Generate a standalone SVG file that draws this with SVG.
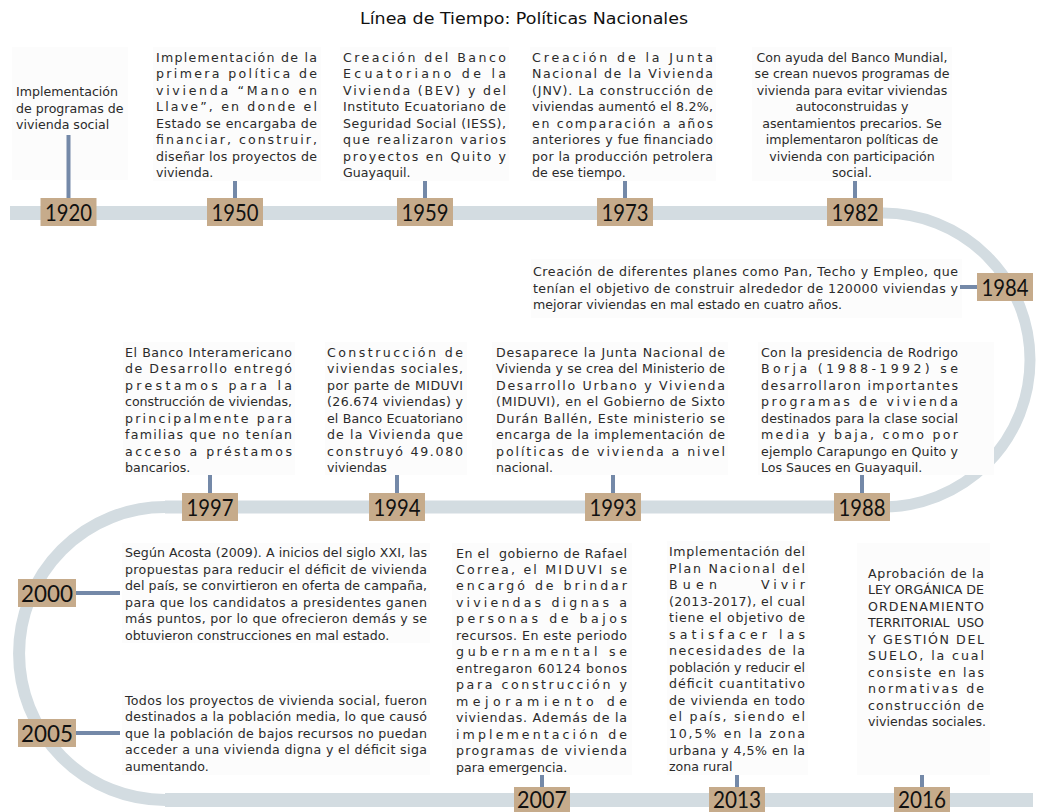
<svg xmlns="http://www.w3.org/2000/svg" width="1037" height="812" viewBox="0 0 1037 812">
  <defs>
    <style>
      .bg { fill: #fcfcfc; }
      .band { fill: none; stroke: #d3dce1; }
      .stem { stroke: #7489a8; stroke-width: 4; fill: none; }
      .box { fill: #c6ab8b; }
      .year { font-family: Lato, "Open Sans", "DejaVu Sans", sans-serif; font-weight: 400; font-size: 24px; fill: #111111; text-anchor: middle; }
      .t { font-family: "DejaVu Sans", "Liberation Sans", sans-serif; font-size: 12.6px; fill: #2b2b2b; }
      .c { text-anchor: middle; }
      .title { font-family: "DejaVu Sans", "Liberation Sans", sans-serif; font-size: 16px; fill: #111; text-anchor: middle; }
    </style>
  </defs>

  <rect width="1037" height="812" fill="#ffffff"/>

  <text class="title" x="524" y="24" textLength="328" lengthAdjust="spacingAndGlyphs">Línea de Tiempo: Políticas Nacionales</text>

  <!-- timeline track -->
  <g id="track">
    <line class="band" x1="10" y1="213" x2="883" y2="213" stroke-width="14"/>
    <path class="band" d="M 883 213 A 147 147 0 0 1 883 507" stroke-width="11"/>
    <line class="band" x1="165" y1="507" x2="883" y2="507" stroke-width="13"/>
    <path class="band" d="M 165 507 A 146 146.5 0 0 0 165 800" stroke-width="12"/>
    <line class="band" x1="165" y1="800" x2="1033" y2="800" stroke-width="14"/>
  </g>

  <!-- text panels -->
  <g id="panels">
    <rect class="bg" x="12" y="47" width="116" height="133"/>
    <rect class="bg" x="153" y="47" width="168" height="134"/>
    <rect class="bg" x="340" y="47" width="169" height="134"/>
    <rect class="bg" x="530" y="47" width="186" height="134"/>
    <rect class="bg" x="752" y="47" width="200" height="134"/>
    <rect class="bg" x="531" y="259" width="431" height="59"/>
    <rect class="bg" x="123" y="342" width="172" height="133"/>
    <rect class="bg" x="325" y="342" width="142" height="133"/>
    <rect class="bg" x="492" y="342" width="236" height="133"/>
    <rect class="bg" x="758" y="342" width="236" height="133"/>
    <rect class="bg" x="122" y="543" width="308" height="100"/>
    <rect class="bg" x="122" y="690" width="308" height="85"/>
    <rect class="bg" x="452" y="543" width="180" height="232"/>
    <rect class="bg" x="667" y="541" width="141" height="234"/>
    <rect class="bg" x="857" y="543" width="133" height="232"/>
  </g>

  <!-- connectors from year markers to their descriptions -->
  <g id="connectors">
    <line class="stem" x1="68.5" y1="135" x2="68.5" y2="198"/>
    <line class="stem" x1="235" y1="181" x2="235" y2="198"/>
    <line class="stem" x1="425" y1="181" x2="425" y2="198"/>
    <line class="stem" x1="625" y1="181" x2="625" y2="198"/>
    <line class="stem" x1="855" y1="181" x2="855" y2="198"/>
    <line class="stem" x1="960" y1="287" x2="977" y2="287"/>
    <line class="stem" x1="210" y1="475" x2="210" y2="493"/>
    <line class="stem" x1="397" y1="475" x2="397" y2="493"/>
    <line class="stem" x1="613" y1="475" x2="613" y2="493"/>
    <line class="stem" x1="862" y1="475" x2="862" y2="493"/>
    <line class="stem" x1="76" y1="593" x2="120" y2="593"/>
    <line class="stem" x1="76" y1="733" x2="120" y2="733"/>
    <line class="stem" x1="542" y1="775" x2="542" y2="787"/>
    <line class="stem" x1="737" y1="775" x2="737" y2="787"/>
    <line class="stem" x1="922" y1="775" x2="922" y2="787"/>
  </g>

  <g id="n1920">
    <rect class="box" x="40.5" y="198" width="56" height="28"/>
    <text class="year" x="68.5" y="221" textLength="47" lengthAdjust="spacingAndGlyphs">1920</text>
    <text class="t" x="16" y="96">Implementación</text>
    <text class="t" x="16" y="112.5">de programas de</text>
    <text class="t" x="16" y="129">vivienda social</text>
  </g>

  <g id="n1950">
    <rect class="box" x="207" y="198" width="56" height="28"/>
    <text class="year" x="235" y="221" textLength="47" lengthAdjust="spacingAndGlyphs">1950</text>
    <text class="t" x="156" y="62" textLength="161" lengthAdjust="spacing">Implementación de la</text>
    <text class="t" x="156" y="78.4" textLength="161" lengthAdjust="spacing">primera política de</text>
    <text class="t" x="156" y="94.9" textLength="161" lengthAdjust="spacing">vivienda “Mano en</text>
    <text class="t" x="156" y="111.3" textLength="161" lengthAdjust="spacing">Llave”, en donde el</text>
    <text class="t" x="156" y="127.7" textLength="161" lengthAdjust="spacing">Estado se encargaba de</text>
    <text class="t" x="156" y="144.1" textLength="161" lengthAdjust="spacing">financiar, construir,</text>
    <text class="t" x="156" y="160.6" textLength="161" lengthAdjust="spacing">diseñar los proyectos de</text>
    <text class="t" x="156" y="177">vivienda.</text>
  </g>

  <g id="n1959">
    <rect class="box" x="397" y="198" width="56" height="28"/>
    <text class="year" x="425" y="221" textLength="47" lengthAdjust="spacingAndGlyphs">1959</text>
    <text class="t" x="343" y="62" textLength="163" lengthAdjust="spacing">Creación del Banco</text>
    <text class="t" x="343" y="78.4" textLength="163" lengthAdjust="spacing">Ecuatoriano de la</text>
    <text class="t" x="343" y="94.9" textLength="163" lengthAdjust="spacing">Vivienda (BEV) y del</text>
    <text class="t" x="343" y="111.3" textLength="163" lengthAdjust="spacing">Instituto Ecuatoriano de</text>
    <text class="t" x="343" y="127.7" textLength="163" lengthAdjust="spacing">Seguridad Social (IESS),</text>
    <text class="t" x="343" y="144.1" textLength="163" lengthAdjust="spacing">que realizaron varios</text>
    <text class="t" x="343" y="160.6" textLength="163" lengthAdjust="spacing">proyectos en Quito y</text>
    <text class="t" x="343" y="177">Guayaquil.</text>
  </g>

  <g id="n1973">
    <rect class="box" x="597" y="198" width="56" height="28"/>
    <text class="year" x="625" y="221" textLength="47" lengthAdjust="spacingAndGlyphs">1973</text>
    <text class="t" x="532" y="62" textLength="181" lengthAdjust="spacing">Creación de la Junta</text>
    <text class="t" x="532" y="78.4" textLength="181" lengthAdjust="spacing">Nacional de la Vivienda</text>
    <text class="t" x="532" y="94.9" textLength="181" lengthAdjust="spacing">(JNV). La construcción de</text>
    <text class="t" x="532" y="111.3" textLength="181" lengthAdjust="spacing">viviendas aumentó el 8.2%,</text>
    <text class="t" x="532" y="127.7" textLength="181" lengthAdjust="spacing">en comparación a años</text>
    <text class="t" x="532" y="144.1" textLength="181" lengthAdjust="spacing">anteriores y fue financiado</text>
    <text class="t" x="532" y="160.6" textLength="181" lengthAdjust="spacing">por la producción petrolera</text>
    <text class="t" x="532" y="177">de ese tiempo.</text>
  </g>

  <g id="n1982">
    <rect class="box" x="827" y="198" width="56" height="28"/>
    <text class="year" x="855" y="221" textLength="47" lengthAdjust="spacingAndGlyphs">1982</text>
    <text class="t c" x="852" y="62">Con ayuda del Banco Mundial,</text>
    <text class="t c" x="852" y="78.4">se crean nuevos programas de</text>
    <text class="t c" x="852" y="94.9">vivienda para evitar viviendas</text>
    <text class="t c" x="852" y="111.3">autoconstruidas y</text>
    <text class="t c" x="852" y="127.7">asentamientos precarios. Se</text>
    <text class="t c" x="852" y="144.1">implementaron políticas de</text>
    <text class="t c" x="852" y="160.6">vivienda con participación</text>
    <text class="t c" x="852" y="177">social.</text>
  </g>

  <g id="n1984">
    <rect class="box" x="977" y="273" width="56" height="28"/>
    <text class="year" x="1005" y="296" textLength="47" lengthAdjust="spacingAndGlyphs">1984</text>
    <text class="t" x="533" y="276" textLength="425" lengthAdjust="spacing">Creación de diferentes planes como Pan, Techo y Empleo, que</text>
    <text class="t" x="533" y="292.5" textLength="425" lengthAdjust="spacing">tenían el objetivo de construir alrededor de 120000 viviendas y</text>
    <text class="t" x="533" y="309">mejorar viviendas en mal estado en cuatro años.</text>
  </g>

  <g id="n1997">
    <rect class="box" x="182" y="493" width="56" height="28"/>
    <text class="year" x="210" y="516" textLength="47" lengthAdjust="spacingAndGlyphs">1997</text>
    <text class="t" x="125" y="357" textLength="167" lengthAdjust="spacing">El Banco Interamericano</text>
    <text class="t" x="125" y="373.4" textLength="167" lengthAdjust="spacing">de Desarrollo entregó</text>
    <text class="t" x="125" y="389.9" textLength="167" lengthAdjust="spacing">prestamos para la</text>
    <text class="t" x="125" y="406.3" textLength="167" lengthAdjust="spacing">construcción de viviendas,</text>
    <text class="t" x="125" y="422.7" textLength="167" lengthAdjust="spacing">principalmente para</text>
    <text class="t" x="125" y="439.1" textLength="167" lengthAdjust="spacing">familias que no tenían</text>
    <text class="t" x="125" y="455.6" textLength="167" lengthAdjust="spacing">acceso a préstamos</text>
    <text class="t" x="125" y="472">bancarios.</text>
  </g>

  <g id="n1994">
    <rect class="box" x="369" y="493" width="56" height="28"/>
    <text class="year" x="397" y="516" textLength="47" lengthAdjust="spacingAndGlyphs">1994</text>
    <text class="t" x="327" y="357" textLength="136" lengthAdjust="spacing">Construcción de</text>
    <text class="t" x="327" y="373.4" textLength="136" lengthAdjust="spacing">viviendas sociales,</text>
    <text class="t" x="327" y="389.9" textLength="136" lengthAdjust="spacing">por parte de MIDUVI</text>
    <text class="t" x="327" y="406.3" textLength="136" lengthAdjust="spacing">(26.674 viviendas) y</text>
    <text class="t" x="327" y="422.7" textLength="136" lengthAdjust="spacing">el Banco Ecuatoriano</text>
    <text class="t" x="327" y="439.1" textLength="136" lengthAdjust="spacing">de la Vivienda que</text>
    <text class="t" x="327" y="455.6" textLength="136" lengthAdjust="spacing">construyó 49.080</text>
    <text class="t" x="327" y="472">viviendas</text>
  </g>

  <g id="n1993">
    <rect class="box" x="585" y="493" width="56" height="28"/>
    <text class="year" x="613" y="516" textLength="47" lengthAdjust="spacingAndGlyphs">1993</text>
    <text class="t" x="496" y="357" textLength="229" lengthAdjust="spacing">Desaparece la Junta Nacional de</text>
    <text class="t" x="496" y="373.4" textLength="229" lengthAdjust="spacing">Vivienda y se crea del Ministerio de</text>
    <text class="t" x="496" y="389.9" textLength="229" lengthAdjust="spacing">Desarrollo Urbano y Vivienda</text>
    <text class="t" x="496" y="406.3" textLength="229" lengthAdjust="spacing">(MIDUVI), en el Gobierno de Sixto</text>
    <text class="t" x="496" y="422.7" textLength="229" lengthAdjust="spacing">Durán Ballén, Este ministerio se</text>
    <text class="t" x="496" y="439.1" textLength="229" lengthAdjust="spacing">encarga de la implementación de</text>
    <text class="t" x="496" y="455.6" textLength="229" lengthAdjust="spacing">políticas de vivienda a nivel</text>
    <text class="t" x="496" y="472">nacional.</text>
  </g>

  <g id="n1988">
    <rect class="box" x="834" y="493" width="56" height="28"/>
    <text class="year" x="862" y="516" textLength="47" lengthAdjust="spacingAndGlyphs">1988</text>
    <text class="t" x="761" y="357" textLength="197" lengthAdjust="spacing">Con la presidencia de Rodrigo</text>
    <text class="t" x="761" y="373.4" textLength="197" lengthAdjust="spacing">Borja (1988-1992) se</text>
    <text class="t" x="761" y="389.9" textLength="197" lengthAdjust="spacing">desarrollaron importantes</text>
    <text class="t" x="761" y="406.3" textLength="197" lengthAdjust="spacing">programas de vivienda</text>
    <text class="t" x="761" y="422.7" textLength="197" lengthAdjust="spacing">destinados para la clase social</text>
    <text class="t" x="761" y="439.1" textLength="197" lengthAdjust="spacing">media y baja, como por</text>
    <text class="t" x="761" y="455.6" textLength="197" lengthAdjust="spacing">ejemplo Carapungo en Quito y</text>
    <text class="t" x="761" y="472">Los Sauces en Guayaquil.</text>
  </g>

  <g id="n2000">
    <rect class="box" x="18" y="579" width="58" height="28"/>
    <text class="year" x="47" y="602" textLength="52" lengthAdjust="spacingAndGlyphs">2000</text>
    <text class="t" x="125" y="557" textLength="302" lengthAdjust="spacing">Según Acosta (2009). A inicios del siglo XXI, las</text>
    <text class="t" x="125" y="573.6" textLength="302" lengthAdjust="spacing">propuestas para reducir el déficit de vivienda</text>
    <text class="t" x="125" y="590.2" textLength="302" lengthAdjust="spacing">del país, se convirtieron en oferta de campaña,</text>
    <text class="t" x="125" y="606.8" textLength="302" lengthAdjust="spacing">para que los candidatos a presidentes ganen</text>
    <text class="t" x="125" y="623.4" textLength="302" lengthAdjust="spacing">más puntos, por lo que ofrecieron demás y se</text>
    <text class="t" x="125" y="640">obtuvieron construcciones en mal estado.</text>
  </g>

  <g id="n2005">
    <rect class="box" x="18" y="719" width="58" height="28"/>
    <text class="year" x="47" y="742" textLength="52" lengthAdjust="spacingAndGlyphs">2005</text>
    <text class="t" x="125" y="704.5" textLength="302" lengthAdjust="spacing">Todos los proyectos de vivienda social, fueron</text>
    <text class="t" x="125" y="721" textLength="302" lengthAdjust="spacing">destinados a la población media, lo que causó</text>
    <text class="t" x="125" y="737.5" textLength="302" lengthAdjust="spacing">que la población de bajos recursos no puedan</text>
    <text class="t" x="125" y="754" textLength="302" lengthAdjust="spacing">acceder a una vivienda digna y el déficit siga</text>
    <text class="t" x="125" y="770.5">aumentando.</text>
  </g>

  <g id="n2007">
    <rect class="box" x="514" y="787" width="56" height="28"/>
    <text class="year" x="542" y="808" textLength="50" lengthAdjust="spacingAndGlyphs">2007</text>
    <text class="t" x="456" y="557.5" textLength="171" lengthAdjust="spacing" xml:space="preserve">En el  gobierno de Rafael</text>
    <text class="t" x="456" y="574" textLength="171" lengthAdjust="spacing">Correa, el MIDUVI se</text>
    <text class="t" x="456" y="590.4" textLength="171" lengthAdjust="spacing">encargó de brindar</text>
    <text class="t" x="456" y="606.9" textLength="171" lengthAdjust="spacing">viviendas dignas a</text>
    <text class="t" x="456" y="623.3" textLength="171" lengthAdjust="spacing">personas de bajos</text>
    <text class="t" x="456" y="639.8" textLength="171" lengthAdjust="spacing">recursos. En este periodo</text>
    <text class="t" x="456" y="656.3" textLength="171" lengthAdjust="spacing">gubernamental se</text>
    <text class="t" x="456" y="672.7" textLength="171" lengthAdjust="spacing">entregaron 60124 bonos</text>
    <text class="t" x="456" y="689.2" textLength="171" lengthAdjust="spacing">para construcción y</text>
    <text class="t" x="456" y="705.6" textLength="171" lengthAdjust="spacing">mejoramiento de</text>
    <text class="t" x="456" y="722.1" textLength="171" lengthAdjust="spacing">viviendas. Además de la</text>
    <text class="t" x="456" y="738.6" textLength="171" lengthAdjust="spacing">implementación de</text>
    <text class="t" x="456" y="755" textLength="171" lengthAdjust="spacing">programas de vivienda</text>
    <text class="t" x="456" y="771.5">para emergencia.</text>
  </g>

  <g id="n2013">
    <rect class="box" x="709" y="787" width="56" height="28"/>
    <text class="year" x="737" y="808" textLength="48" lengthAdjust="spacingAndGlyphs">2013</text>
    <text class="t" x="669" y="556" textLength="136" lengthAdjust="spacing">Implementación del</text>
    <text class="t" x="669" y="572.5" textLength="136" lengthAdjust="spacing">Plan Nacional del</text>
    <text class="t" x="669" y="589.1" textLength="48" lengthAdjust="spacing">Buen</text>
    <text class="t" x="761" y="589.1" textLength="44" lengthAdjust="spacing">Vivir</text>
    <text class="t" x="669" y="605.6" textLength="136" lengthAdjust="spacing">(2013-2017), el cual</text>
    <text class="t" x="669" y="622.2" textLength="136" lengthAdjust="spacing">tiene el objetivo de</text>
    <text class="t" x="669" y="638.7" textLength="136" lengthAdjust="spacing">satisfacer las</text>
    <text class="t" x="669" y="655.2" textLength="136" lengthAdjust="spacing">necesidades de la</text>
    <text class="t" x="669" y="671.8" textLength="136" lengthAdjust="spacing">población y reducir el</text>
    <text class="t" x="669" y="688.3" textLength="136" lengthAdjust="spacing">déficit cuantitativo</text>
    <text class="t" x="669" y="704.9" textLength="136" lengthAdjust="spacing">de vivienda en todo</text>
    <text class="t" x="669" y="721.4" textLength="136" lengthAdjust="spacing">el país, siendo el</text>
    <text class="t" x="669" y="737.9" textLength="136" lengthAdjust="spacing">10,5% en la zona</text>
    <text class="t" x="669" y="754.5" textLength="136" lengthAdjust="spacing">urbana y 4,5% en la</text>
    <text class="t" x="669" y="771">zona rural</text>
  </g>

  <g id="n2016">
    <rect class="box" x="894" y="787" width="56" height="28"/>
    <text class="year" x="922" y="808" textLength="48" lengthAdjust="spacingAndGlyphs">2016</text>
    <text class="t" x="868" y="577.5" textLength="116" lengthAdjust="spacing">Aprobación de la</text>
    <text class="t" x="868" y="594" textLength="116" lengthAdjust="spacing">LEY ORGÁNICA DE</text>
    <text class="t" x="868" y="610.5" textLength="116" lengthAdjust="spacing">ORDENAMIENTO</text>
    <text class="t" x="868" y="627" textLength="116" lengthAdjust="spacing" xml:space="preserve">TERRITORIAL  USO</text>
    <text class="t" x="868" y="643.5" textLength="116" lengthAdjust="spacing">Y GESTIÓN DEL</text>
    <text class="t" x="868" y="660" textLength="116" lengthAdjust="spacing">SUELO, la cual</text>
    <text class="t" x="868" y="676.5" textLength="116" lengthAdjust="spacing">consiste en las</text>
    <text class="t" x="868" y="693" textLength="116" lengthAdjust="spacing">normativas de</text>
    <text class="t" x="868" y="709.5" textLength="116" lengthAdjust="spacing">construcción de</text>
    <text class="t" x="868" y="726">viviendas sociales.</text>
  </g>
</svg>
